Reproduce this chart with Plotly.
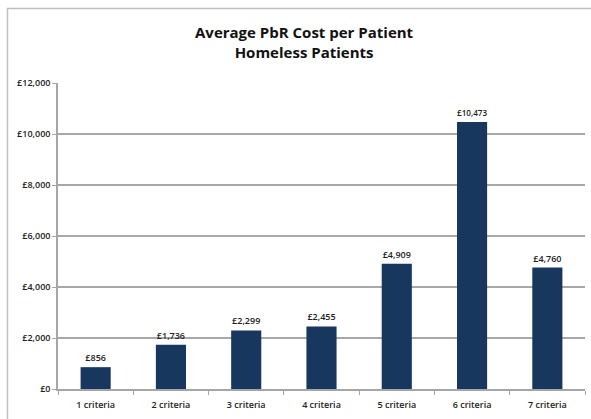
import plotly.graph_objects as go

categories = ["1 criteria", "2 criteria", "3 criteria", "4 criteria", "5 criteria", "6 criteria", "7 criteria"]
values = [856, 1736, 2299, 2455, 4909, 10473, 4760]
title_lines = ["Average PbR Cost per Patient", "Homeless Patients"]

W, H = 591, 419
L, R, T, B = 58, 6, 83, 30
pw, ph = W - L - R, H - T - B

def px_to_paper_x(px):
    return (px - L) / pw

def px_to_paper_y(py):
    return (H - B - py) / ph

fig = go.Figure(go.Bar(
    x=categories, y=values,
    marker=dict(color="#17375E", line=dict(width=0)),
    width=0.4,
    texttemplate="£%{y:,}", textposition="outside",
    textfont=dict(family="Open Sans", size=9, color="#222222", weight=600),
    cliponaxis=False,
))

fig.update_layout(
    width=W, height=H,
    margin=dict(l=L, r=R, t=T, b=B),
    paper_bgcolor="white", plot_bgcolor="white",
    showlegend=False,
    font=dict(family="Open Sans", color="#222222"),
    xaxis=dict(
        showline=True, linecolor="#A6A6A6", linewidth=1.5,
        ticks="outside", ticklen=4, tickcolor="#A6A6A6",
        tickson="boundaries", ticklabelstandoff=6,
        tickfont=dict(size=9, color="#222222", weight=600),
    ),
    yaxis=dict(
        range=[0, 12000], dtick=2000,
        tickprefix="£", tickformat=",",
        showgrid=True, gridcolor="#A8A8A8", gridwidth=1.5,
        showline=True, linecolor="#A6A6A6", linewidth=1.5,
        ticks="outside", ticklen=4, tickcolor="#A6A6A6",
        tickfont=dict(size=9, color="#222222", weight=600),
        zeroline=False,
    ),
    shapes=[dict(
        type="rect", xref="paper", yref="paper",
        x0=px_to_paper_x(7.5), x1=px_to_paper_x(592),
        y0=px_to_paper_y(420), y1=px_to_paper_y(8.5),
        line=dict(color="#BFBFBF", width=1.5), fillcolor="rgba(0,0,0,0)",
        layer="below",
    )],
    annotations=[dict(
        text="<b>" + title_lines[0] + "</b><br><b>" + title_lines[1] + "</b>",
        xref="paper", yref="paper",
        x=px_to_paper_x(304), y=px_to_paper_y(42),
        xanchor="center", yanchor="middle", showarrow=False,
        font=dict(family="Open Sans", size=15, color="#111111"),
    )],
)

fig.write_html("out.html")
